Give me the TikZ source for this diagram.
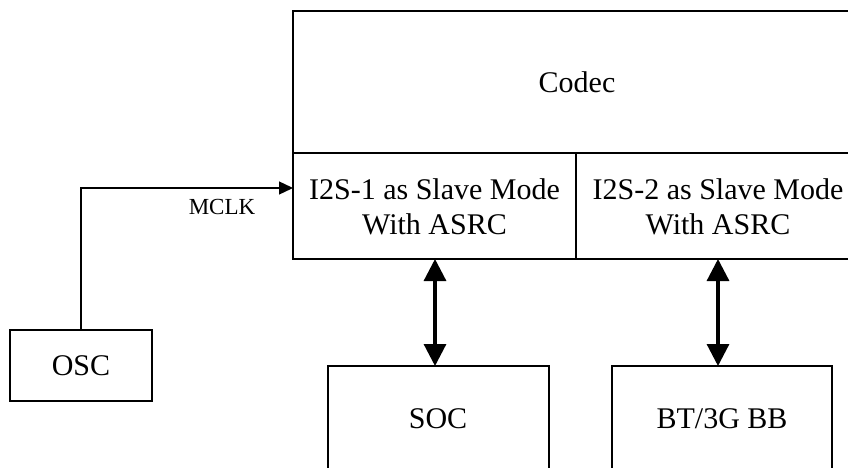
\documentclass[tikz,border=0pt]{standalone}
\usepackage{fontspec}
\setmainfont{Liberation Serif}
\usetikzlibrary{arrows.meta}
\begin{document}
\begin{tikzpicture}[x=1pt,y=-1pt,
  box/.style={draw=black,line width=1.6pt},
  lbl/.style={font=\fontsize{30}{35}\selectfont,align=center,inner sep=0pt},
  small/.style={font=\fontsize{23}{27}\selectfont,inner sep=0pt},
  bus/.style={line width=3.2pt,{Triangle[length=22pt,width=22pt]}-{Triangle[length=22pt,width=22pt]}},
  clk/.style={line width=1.3pt,-{Triangle[length=14pt,width=13pt]}}]
\useasboundingbox (0,0) rectangle (848,468);
% Codec
\draw[box] (860,11) -- (293,11) -- (293,259) -- (860,259);
\draw[box] (293,153) -- (860,153);
\draw[box] (576,153) -- (576,259);
\node[lbl] (codec) at (577,82) {Codec};
\node[lbl] (t1) at (434.5,207) {I2S-1 as Slave Mode\\With ASRC};
\node[lbl] (t2) at (718,207) {I2S-2 as Slave Mode\\With ASRC};
\coordinate (i2s1b) at (435,259);
\coordinate (i2s2b) at (718,259);
\coordinate (codecL) at (293,188);
% OSC
\draw[box] (10,330) rectangle (152,401);
\node[lbl] (osc) at (81,366) {OSC};
\coordinate (oscT) at (81,330);
% SOC
\draw[box] (328,480) -- (328,366) -- (549,366) -- (549,480);
\node[lbl] (soc) at (438,419) {SOC};
\coordinate (socT) at (435,366);
% BT
\draw[box] (612,480) -- (612,366) -- (832,366) -- (832,480);
\node[lbl] (bt) at (722,419) {BT/3G BB};
\coordinate (btT) at (718,366);
% connectors
\draw[clk] (oscT) |- (codecL);
\node[small] (mclk) at (222,207) {MCLK};
\draw[bus] (i2s1b) -- (socT);
\draw[bus] (i2s2b) -- (btT);
\end{tikzpicture}
\end{document}
